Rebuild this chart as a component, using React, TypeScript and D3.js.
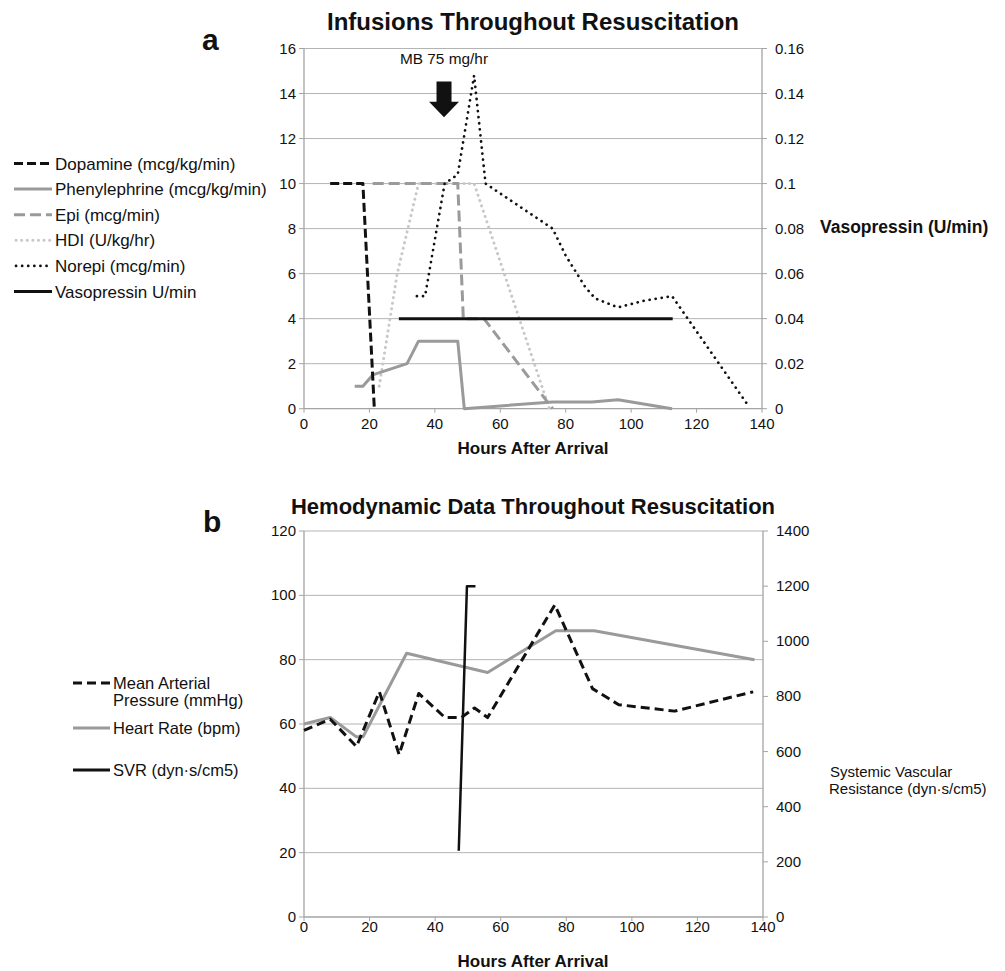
import React from 'react';
import * as d3 from 'd3';

// ---------- ticks ----------
const hourTicks = [0, 20, 40, 60, 80, 100, 120, 140];
const infusionTicks = [0, 2, 4, 6, 8, 10, 12, 14, 16];
const vasoTicks = [0, 0.02, 0.04, 0.06, 0.08, 0.1, 0.12, 0.14, 0.16];
const hemoTicks = [0, 20, 40, 60, 80, 100, 120];
const svrTicks = [0, 200, 400, 600, 800, 1000, 1200, 1400];

// ---------- panel a data ----------
const dopamineHours = [8, 18, 21.5];
const dopamineValues = [10, 10, 0];
const pheHours = [15.5, 18, 21, 31.5, 35, 47, 49, 76, 88, 96, 112.5];
const pheValues = [1, 1, 1.5, 2, 3, 3, 0, 0.3, 0.3, 0.4, 0];
const epiHours = [21, 47, 48.7, 55, 76];
const epiValues = [10, 10, 4, 4, 0];
const hdiHours = [23, 28.5, 35, 52, 75];
const hdiValues = [1, 6, 10, 10, 0];
const norepiHours = [34.5, 37, 43, 47, 52, 55.5, 76, 80, 86, 89, 96, 104, 112.5, 135.5];
const norepiValues = [5, 5, 10, 10.4, 14.8, 10, 8, 6.8, 5.4, 4.9, 4.5, 4.8, 5, 0.2];
const vasoHours = [29, 112.7];
const vasoValues = [0.04, 0.04];

// annotation
const mbLabel = 'MB 75 mg/hr';
const mbHour = 42.8;

// ---------- panel b data ----------
const mapHours = [0, 8, 16, 23, 29, 35, 43, 48, 52, 56, 76.5, 88, 96, 113, 137];
const mapValues = [58, 61.5, 53, 70, 50.5, 69.5, 62, 62, 65, 62, 97, 71, 66, 64, 70];
const hrHours = [0, 8, 16, 18, 31.3, 56, 76.8, 88.5, 137.4];
const hrValues = [60, 62, 56, 56, 82, 76, 89, 89, 80];
const svrHours = [47.2, 49.7, 52.3];
const svrValues = [240, 1200, 1200];

const legendA = [
  'Dopamine (mcg/kg/min)',
  'Phenylephrine (mcg/kg/min)',
  'Epi (mcg/min)',
  'HDI (U/kg/hr)',
  'Norepi (mcg/min)',
  'Vasopressin U/min',
];

const FONT = '"Liberation Sans", Arial, Helvetica, sans-serif';
const GRID = '#b4b4b4';
const AXIS = '#a4a4a4';
const DARK = '#111';
const MID = '#9a9a9a';
const LIGHT = '#c8c8c8';

type Style = { stroke: string; width: number; dash?: string; cap?: 'round' | 'butt' };
const styles: Record<string, Style> = {
  dopamine: { stroke: DARK, width: 3, dash: '9,4' },
  phe: { stroke: MID, width: 3 },
  epi: { stroke: MID, width: 3, dash: '11,5' },
  hdi: { stroke: LIGHT, width: 3, dash: '0.1,5.5', cap: 'round' },
  norepi: { stroke: DARK, width: 2.7, dash: '0.1,6', cap: 'round' },
  vaso: { stroke: DARK, width: 3 },
  map: { stroke: DARK, width: 3, dash: '9,5' },
  hr: { stroke: MID, width: 3 },
  svr: { stroke: DARK, width: 2.5 },
};
const legendAKeys = ['dopamine', 'phe', 'epi', 'hdi', 'norepi', 'vaso'];

function path(xs: number[], ys: number[], sx: any, sy: any, curve: any = d3.curveLinear) {
  return (
    d3
      .line<number>()
      .x((_, i) => sx(xs[i]))
      .y((_, i) => sy(ys[i]))
      .curve(curve)(xs) || ''
  );
}

function Series({ d, s }: { d: string; s: Style }) {
  return (
    <path
      d={d}
      fill="none"
      stroke={s.stroke}
      strokeWidth={s.width}
      strokeDasharray={s.dash}
      strokeLinecap={s.cap || 'butt'}
      strokeLinejoin="round"
    />
  );
}

function fmtSmall(v: number) {
  return v === 0 ? '0' : String(Number(v.toFixed(2)));
}

export default function App() {
  // panel a scales
  const xA = d3.scaleLinear().domain([0, 140]).range([304, 762]);
  const yA = d3.scaleLinear().domain([0, 16]).range([408.7, 48.5]);
  const yA2 = d3.scaleLinear().domain([0, 0.16]).range([408.7, 48.5]);
  // panel b scales
  const xB = d3.scaleLinear().domain([0, 140]).range([304, 763]);
  const yB = d3.scaleLinear().domain([0, 120]).range([917, 531]);
  const yB2 = d3.scaleLinear().domain([0, 1400]).range([917, 531]);

  const cx = xA(mbHour);
  const arrowTop = yA(14.53);
  const arrowNeck = yA(13.64);
  const arrowTip = yA(12.95);
  const arrow = [
    [cx - 7.5, arrowTop],
    [cx + 7.5, arrowTop],
    [cx + 7.5, arrowNeck],
    [cx + 15, arrowNeck],
    [cx, arrowTip],
    [cx - 15, arrowNeck],
    [cx - 7.5, arrowNeck],
  ]
    .map((p) => p.join(','))
    .join(' ');

  const [ax0, ax1] = xA.range();
  const [bx0, bx1] = xB.range();

  return (
    <svg
      width={1005}
      height={971}
      style={{ position: 'absolute', left: 0, top: 0, background: '#fff' }}
      fontFamily={FONT}
    >
      <rect x={0} y={0} width={1005} height={971} fill="#fff" />

      {/* ================= PANEL A ================= */}
      <text x={202} y={50} fontSize={30} fontWeight="bold" fill={DARK}>a</text>
      <text x={533} y={30} fontSize={24} fontWeight="bold" textAnchor="middle" fill={DARK}>
        Infusions Throughout Resuscitation
      </text>

      {infusionTicks.map((t) => (
        <g key={'ga' + t}>
          {t > 0 && <line x1={ax0} x2={ax1} y1={yA(t)} y2={yA(t)} stroke={GRID} strokeWidth={1} />}
          <line x1={ax0 - 5} x2={ax0} y1={yA(t)} y2={yA(t)} stroke={AXIS} />
          <text x={296} y={yA(t) + 5} fontSize={15} textAnchor="end" fill={DARK}>{t}</text>
        </g>
      ))}
      {vasoTicks.map((t) => (
        <g key={'va' + t}>
          <line x1={ax1} x2={ax1 + 5} y1={yA2(t)} y2={yA2(t)} stroke={AXIS} />
          <text x={775} y={yA2(t) + 5} fontSize={15} fill={DARK}>{fmtSmall(t)}</text>
        </g>
      ))}
      {hourTicks.map((t) => (
        <g key={'xa' + t}>
          <line x1={xA(t)} x2={xA(t)} y1={yA(0)} y2={yA(0) + 4} stroke={AXIS} />
          <text x={xA(t)} y={429} fontSize={15} textAnchor="middle" fill={DARK}>{t}</text>
        </g>
      ))}
      <line x1={ax0} x2={ax0} y1={yA(16)} y2={yA(0)} stroke={AXIS} strokeWidth={1.3} />
      <line x1={ax1} x2={ax1} y1={yA(16)} y2={yA(0)} stroke={AXIS} strokeWidth={1.3} />
      <line x1={ax0} x2={ax1} y1={yA(0)} y2={yA(0)} stroke={AXIS} strokeWidth={1.3} />

      <text x={533} y={454} fontSize={17} fontWeight="bold" textAnchor="middle" fill={DARK}>
        Hours After Arrival
      </text>
      <text x={820} y={233} fontSize={17.5} fontWeight="bold" fill={DARK}>
        Vasopressin (U/min)
      </text>

      <Series d={path(hdiHours, hdiValues, xA, yA)} s={styles.hdi} />
      <Series d={path(pheHours, pheValues, xA, yA)} s={styles.phe} />
      <Series d={path(epiHours, epiValues, xA, yA)} s={styles.epi} />
      <Series d={path(vasoHours, vasoValues, xA, yA2)} s={styles.vaso} />
      <Series d={path(norepiHours, norepiValues, xA, yA)} s={styles.norepi} />
      <Series d={path(dopamineHours, dopamineValues, xA, yA)} s={styles.dopamine} />

      <text x={cx} y={64} fontSize={15.4} textAnchor="middle" fill={DARK}>{mbLabel}</text>
      <polygon points={arrow} fill={DARK} />

      {legendA.map((label, i) => {
        const y = 163.5 + i * 25.6;
        const s = styles[legendAKeys[i]];
        return (
          <g key={'la' + i}>
            <line
              x1={s.cap === 'round' ? 16 : 14}
              x2={52}
              y1={y}
              y2={y}
              stroke={s.stroke}
              strokeWidth={s.width}
              strokeDasharray={s.dash}
              strokeLinecap={s.cap || 'butt'}
            />
            <text x={55} y={y + 6} fontSize={17} fill={DARK}>{label}</text>
          </g>
        );
      })}

      {/* ================= PANEL B ================= */}
      <text x={203} y={532} fontSize={30} fontWeight="bold" fill={DARK}>b</text>
      <text x={533} y={514} fontSize={22} fontWeight="bold" textAnchor="middle" fill={DARK}>
        Hemodynamic Data Throughout Resuscitation
      </text>

      {hemoTicks.map((t) => (
        <g key={'gb' + t}>
          {t > 0 && <line x1={bx0} x2={bx1} y1={yB(t)} y2={yB(t)} stroke={GRID} strokeWidth={1} />}
          <line x1={bx0 - 5} x2={bx0} y1={yB(t)} y2={yB(t)} stroke={AXIS} />
          <text x={296} y={yB(t) + 5} fontSize={15} textAnchor="end" fill={DARK}>{t}</text>
        </g>
      ))}
      {svrTicks.map((t) => (
        <g key={'sb' + t}>
          <line x1={bx1} x2={bx1 + 5} y1={yB2(t)} y2={yB2(t)} stroke={AXIS} />
          <text x={776} y={yB2(t) + 5} fontSize={15} fill={DARK}>{t}</text>
        </g>
      ))}
      {hourTicks.map((t) => (
        <g key={'xb' + t}>
          <line x1={xB(t)} x2={xB(t)} y1={yB(0)} y2={yB(0) + 4} stroke={AXIS} />
          <text x={xB(t)} y={932} fontSize={15} textAnchor="middle" fill={DARK}>{t}</text>
        </g>
      ))}
      <line x1={bx0} x2={bx0} y1={yB(120)} y2={yB(0)} stroke={AXIS} strokeWidth={1.3} />
      <line x1={bx1} x2={bx1} y1={yB(120)} y2={yB(0)} stroke={AXIS} strokeWidth={1.3} />
      <line x1={bx0} x2={bx1} y1={yB(0)} y2={yB(0)} stroke={AXIS} strokeWidth={1.3} />

      <text x={533} y={967} fontSize={17} fontWeight="bold" textAnchor="middle" fill={DARK}>
        Hours After Arrival
      </text>
      <text x={830} y={777} fontSize={15} fill={DARK}>Systemic Vascular</text>
      <text x={829} y={794} fontSize={15} fill={DARK}>Resistance (dyn·s/cm5)</text>

      <Series d={path(hrHours, hrValues, xB, yB)} s={styles.hr} />
      <Series d={path(mapHours, mapValues, xB, yB)} s={styles.map} />
      <Series d={path(svrHours, svrValues, xB, yB2)} s={styles.svr} />

      {/* legend b */}
      <line x1={73} x2={110} y1={683} y2={683} stroke={DARK} strokeWidth={3} strokeDasharray="9,5" />
      <text x={113} y={689} fontSize={16.5} fill={DARK}>Mean Arterial</text>
      <text x={113} y={706} fontSize={16.5} fill={DARK}>Pressure (mmHg)</text>
      <line x1={73} x2={110} y1={728} y2={728} stroke={MID} strokeWidth={3} />
      <text x={113} y={734} fontSize={16.5} fill={DARK}>Heart Rate (bpm)</text>
      <line x1={73} x2={110} y1={770} y2={770} stroke={DARK} strokeWidth={3} />
      <text x={113} y={776} fontSize={16.5} fill={DARK}>SVR (dyn·s/cm5)</text>
    </svg>
  );
}
